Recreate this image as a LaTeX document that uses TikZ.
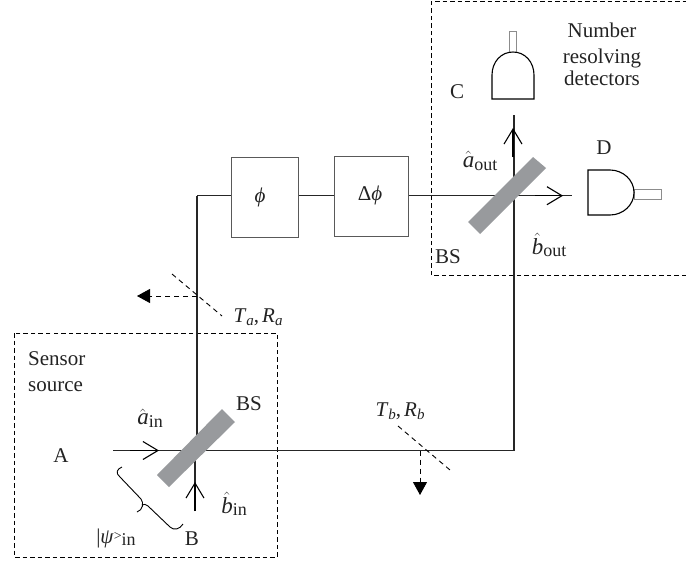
\documentclass[tikz,border=0pt]{standalone}
\usepackage{fontspec}
\setmainfont{Liberation Serif}
\usetikzlibrary{arrows.meta}
\newcommand{\hatit}[1]{$\hat{\mbox{\fontsize{23}{23}\selectfont\textit{#1}}}$}
\newcommand{\subrm}[1]{\raisebox{-2.5pt}{\fontsize{18}{18}\selectfont #1}}
\newcommand{\subit}[1]{\raisebox{-3pt}{\fontsize{15}{15}\selectfont\textit{#1}}}
\definecolor{inkc}{RGB}{35,35,35}
\definecolor{bsgray}{RGB}{152,154,157}
\tikzset{
  x=1pt,y=-1pt,
  lbl/.style={text=inkc,inner sep=0pt,font=\fontsize{21}{22}\selectfont},
  beam/.style={line width=1.1pt,draw=black!85},
  zone/.style={draw=black,line width=0.8pt,dash pattern=on 4.5pt off 3pt},
  phasebox/.style={draw=black!65,line width=1pt,fill=white,inner sep=0pt},
  splitter/.style={fill=bsgray,draw=none},
  barb/.style={line width=1.1pt,-{Straight Barb[length=15pt,width=18pt,line width=1.1pt]}},
  loss/.style={line width=0.9pt,dash pattern=on 5pt off 4pt},
  lossarrow/.style={loss,-{Triangle[length=13pt,width=14pt,sep=0pt]}},
  det/.style={draw=black,line width=1.1pt,fill=white},
  dettube/.style={draw=black!45,line width=1pt,fill=white},
}
\begin{document}
\begin{tikzpicture}
\useasboundingbox (0,0) rectangle (686,565);
% coordinates
\coordinate (in) at (113,450.5);
\coordinate (turnB) at (514,450.5);
\coordinate (topB) at (514,115);
\coordinate (botA) at (195,511);
\coordinate (bsA) at (197,450.5);
\coordinate (bsAlow) at (195,450.5);
\coordinate (turnA) at (197,195.7);
\coordinate (outD) at (572,195.7);
% dashed zones
\draw[zone] (686,275) -- (431,275) -- (431,1.5) -- (686,1.5);
\draw[zone] (14,333) rectangle (277,557);
% beams
\draw[beam] (bsA) -- (turnA);
\draw[beam] (botA) -- (bsAlow);
\draw[beam] (in) -- (turnB) -- (topB);
% phase boxes
\node[phasebox,minimum width=67pt,minimum height=80pt,anchor=north west] (phi) at (231,157) {};
\node[phasebox,minimum width=74pt,minimum height=80pt,anchor=north west] (dphi) at (334,156) {};
\draw[beam] (turnA) -- (phi.west |- turnA);
\draw[beam] (phi.east |- turnA) -- (dphi.west |- turnA);
\draw[beam] (dphi.east |- turnA) -- (outD);
\node[lbl] (philbl) at (260,197) {\textit{ϕ}};
\node[lbl] (dphilbl) at (370,195) {Δ\textit{ϕ}};
% beam splitters
\fill[splitter] (533,157) -- (546,168) -- (480,234) -- (468,222) -- cycle;
\fill[splitter] (222,409) -- (235,422) -- (169,487) -- (157,475) -- cycle;
% arrows
\draw[barb] (130,450.5) -- (159,450.5);
\draw[barb] (195,511) -- (195,482);
\draw[barb] (513,157) -- (513,128);
\draw[barb] (535,195.7) -- (563,195.7);
% detector C
\draw[dettube] (509,31) rectangle (516,52);
\draw[det] (492,99) -- (492,75) .. controls (492,62) and (501,52) .. (513,52) .. controls (525,52) and (534,62) .. (534,75) -- (534,99) -- cycle;
% detector D
\draw[dettube] (634,189) rectangle (661,199);
\draw[det] (588,170) -- (610,170) .. controls (623,170) and (634,180) .. (634,192.5) .. controls (634,205) and (623,215) .. (610,215) -- (588,215) -- cycle;
% loss
\draw[loss] (172,274) -- (222,316);
\draw[lossarrow] (197,296) -- (137,296);
\draw[loss] (398,426) -- (450,470);
\draw[lossarrow] (420,450.5) -- (420,495);
% brace
\draw[line width=0.9pt] (122,467) .. controls (117,469) and (115,473) .. (120,477) -- (141,499) .. controls (144,503) and (143,510) .. (137,512);
\draw[line width=0.9pt] (142,505) .. controls (144,504) and (146,504) .. (148,506) -- (170,527) .. controls (174,531) and (180,529) .. (183,524);
% labels
\node[lbl,align=center] (det) at (602,54.5) {Number\\[4pt]resolving\\detectors};
\node[lbl] (C) at (457,92) {C};
\node[lbl] (D) at (604,148) {D};
\node[lbl] (aout) at (480,161) {\hatit{a}\subrm{out}};
\node[lbl] (bout) at (549,245) {\hatit{b}\subrm{out}};
\node[lbl] (BS1) at (448,257) {BS};
\node[lbl] (Ta) at (258,317) {\textit{T}\subit{a},\hspace{3pt}\textit{R}\subit{a}};
\node[lbl,align=left,anchor=west] (src) at (28,371.5) {Sensor\\[4pt]source};
\node[lbl] (BS2) at (249,404) {BS};
\node[lbl] (ain) at (150,418) {\hatit{a}\subrm{in}};
\node[lbl] (A) at (61,456) {A};
\node[lbl] (bin) at (234,504) {\hatit{b}\subrm{in}};
\node[lbl] (B) at (192,539) {B};
\node[lbl] (psi) at (116,538) {\textnormal{|}\textit{ψ}\raisebox{3pt}{\fontsize{14}{14}\selectfont >}\subrm{in}};
\node[lbl] (Tb) at (400,411) {\textit{T}\subit{b},\hspace{3pt}\textit{R}\subit{b}};
\end{tikzpicture}
\end{document}
